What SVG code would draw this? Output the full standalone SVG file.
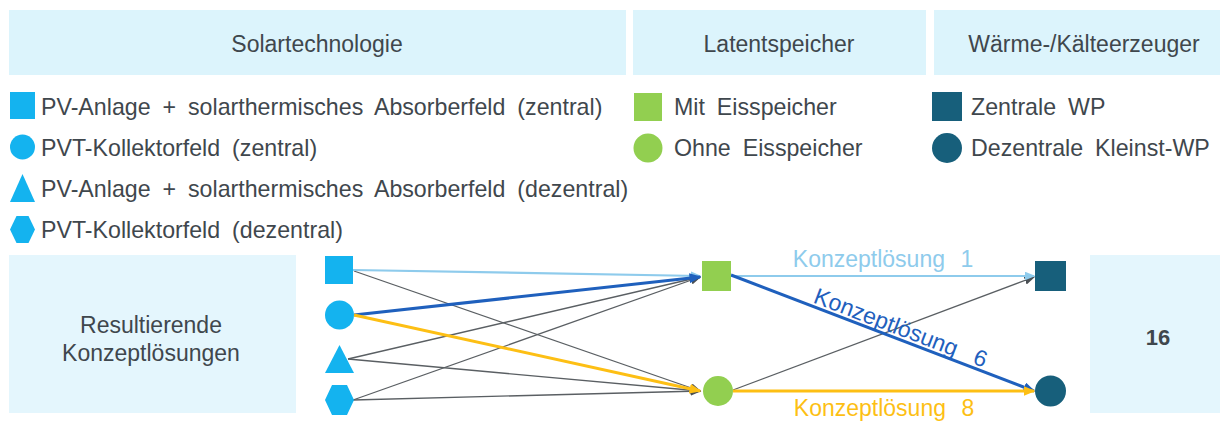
<svg xmlns="http://www.w3.org/2000/svg" width="1220" height="421" viewBox="0 0 1220 421">
  <style>
    text { font-family: "Liberation Sans", Arial, sans-serif; fill: #3f474d; }
    .hdr { font-size: 23px; text-anchor: middle; }
    .lg { font-size: 23.2px; word-spacing: 5.5px; }
    .band { fill: #dcf4fc; }
    .band2 { fill: #e4f6fd; }
    .sun { fill: #14b3ef; }
    .ice { fill: #92cf50; }
    .hp { fill: #175f7b; }
    .lab { font-size: 23px; word-spacing: 9px; }
    .gray { stroke: #5a5f63; stroke-width: 1.3; fill: none; marker-end: url(#ahGray); }
    .c1 { stroke: #8ecbec; stroke-width: 2.2; fill: none; marker-end: url(#ahLight); }
    .c6 { stroke: #1f60bd; stroke-width: 3; fill: none; marker-end: url(#ahBlue); }
    .c8 { stroke: #fdbf14; stroke-width: 3; fill: none; marker-end: url(#ahYellow); }
  </style>
  <defs>
    <marker id="ahGray" markerUnits="userSpaceOnUse" markerWidth="11" markerHeight="9" refX="9.5" refY="4.5" orient="auto">
      <path d="M0,0 L11,4.5 L0,9 z" fill="#4a4f53"/>
    </marker>
    <marker id="ahLight" markerUnits="userSpaceOnUse" markerWidth="11" markerHeight="9" refX="9.5" refY="4.5" orient="auto">
      <path d="M0,0 L11,4.5 L0,9 z" fill="#8ecbec"/>
    </marker>
    <marker id="ahBlue" markerUnits="userSpaceOnUse" markerWidth="12" markerHeight="10" refX="10.5" refY="5" orient="auto">
      <path d="M0,0 L12,5 L0,10 z" fill="#1f60bd"/>
    </marker>
    <marker id="ahYellow" markerUnits="userSpaceOnUse" markerWidth="12" markerHeight="10" refX="10.5" refY="5" orient="auto">
      <path d="M0,0 L12,5 L0,10 z" fill="#fdbf14"/>
    </marker>
  </defs>

  <rect width="1220" height="421" fill="#ffffff"/>

  <!-- column headers -->
  <g id="hdr-solar">
    <rect class="band" x="9" y="10" width="617" height="65"/>
    <text class="hdr" x="317" y="52">Solartechnologie</text>
  </g>
  <g id="hdr-latent">
    <rect class="band" x="633" y="10" width="293" height="65"/>
    <text class="hdr" x="779" y="52">Latentspeicher</text>
  </g>
  <g id="hdr-heat">
    <rect class="band" x="934" y="10" width="286" height="65"/>
    <text class="hdr" x="1084" y="52">Wärme-/Kälteerzeuger</text>
  </g>

  <!-- legend: solar technology -->
  <g id="legend-solar">
    <rect class="sun" x="10" y="92" width="25" height="27"/>
    <text class="lg" x="41" y="115">PV-Anlage + solarthermisches Absorberfeld (zentral)</text>
    <circle class="sun" cx="22.5" cy="147" r="12.5"/>
    <text class="lg" x="41" y="156">PVT-Kollektorfeld (zentral)</text>
    <polygon class="sun" points="22.5,174 35,202 10,202"/>
    <text class="lg" x="41" y="197">PV-Anlage + solarthermisches Absorberfeld (dezentral)</text>
    <polygon class="sun" points="16.5,216 28.5,216 35,229.5 28.5,243 16.5,243 10,229.5"/>
    <text class="lg" x="41" y="238">PVT-Kollektorfeld (dezentral)</text>
  </g>

  <!-- legend: latent storage -->
  <g id="legend-latent">
    <rect class="ice" x="634" y="93" width="28" height="28"/>
    <text class="lg" x="674" y="115">Mit Eisspeicher</text>
    <circle class="ice" cx="648" cy="148" r="14.5"/>
    <text class="lg" x="674" y="156">Ohne Eisspeicher</text>
  </g>

  <!-- legend: heat / cold generators -->
  <g id="legend-heat">
    <rect class="hp" x="932" y="92" width="30" height="29"/>
    <text class="lg" x="971" y="115">Zentrale WP</text>
    <circle class="hp" cx="947" cy="148" r="15"/>
    <text class="lg" x="971" y="156">Dezentrale Kleinst-WP</text>
  </g>

  <!-- result row -->
  <g id="result-label">
    <rect class="band2" x="9" y="255" width="287" height="158"/>
    <text class="hdr" x="151" y="333">Resultierende</text>
    <text class="hdr" x="151" y="361">Konzeptlösungen</text>
  </g>
  <g id="result-count">
    <rect class="band2" x="1090" y="255" width="130" height="158"/>
    <text x="1158" y="345" text-anchor="middle" font-size="22" font-weight="bold">16</text>
  </g>

  <!-- connectors -->
  <g id="connectors">
    <line class="gray" x1="354" y1="271" x2="700" y2="391"/>
    <line class="gray" x1="348" y1="359" x2="700" y2="277"/>
    <line class="gray" x1="348" y1="359" x2="700" y2="391"/>
    <line class="gray" x1="353" y1="400" x2="700" y2="277"/>
    <line class="gray" x1="353" y1="400" x2="700" y2="391"/>
    <line class="gray" x1="733" y1="390" x2="1034" y2="277"/>
    <line class="c1" x1="353" y1="270" x2="700" y2="276"/>
    <line class="c6" x1="354" y1="315" x2="700" y2="277"/>
    <line class="c8" x1="354" y1="315" x2="700" y2="391"/>
    <line class="c1" x1="731" y1="276" x2="1034" y2="276"/>
    <line class="c6" x1="731" y1="275" x2="1034" y2="391"/>
    <line class="c8" x1="733" y1="391" x2="1034" y2="391"/>
    <text class="lab" x="883" y="267" text-anchor="middle" style="fill:#8ecbec">Konzeptlösung 1</text>
    <text class="lab" transform="translate(898,335) rotate(20.9)" text-anchor="middle" style="fill:#1f60bd;word-spacing:12px">Konzeptlösung 6</text>
    <text class="lab" x="884" y="416" text-anchor="middle" style="fill:#fdbf14">Konzeptlösung 8</text>
  </g>

  <!-- solar technology nodes -->
  <g id="n-pv-central"><rect class="sun" x="325" y="256" width="28" height="28"/></g>
  <g id="n-pvt-central"><circle class="sun" cx="339.5" cy="315" r="14.5"/></g>
  <g id="n-pv-decentral"><polygon class="sun" points="339.5,345 354,373 325,373"/></g>
  <g id="n-pvt-decentral"><polygon class="sun" points="332,385 347,385 354,400 347,415 332,415 325,400"/></g>

  <!-- latent storage nodes -->
  <g id="n-with-ice"><rect class="ice" x="702" y="261" width="29" height="30"/></g>
  <g id="n-without-ice"><circle class="ice" cx="718" cy="391" r="15"/></g>

  <!-- heat pump nodes -->
  <g id="n-hp-central"><rect class="hp" x="1035" y="261" width="31" height="30"/></g>
  <g id="n-hp-decentral"><circle class="hp" cx="1050.5" cy="391" r="15.5"/></g>
</svg>
